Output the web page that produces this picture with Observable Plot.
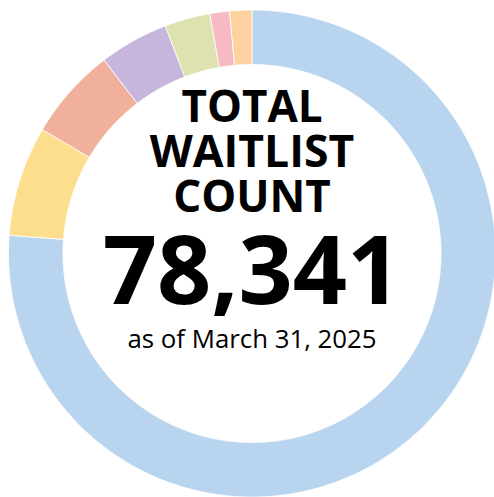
<!DOCTYPE html>
<html>
<head>
<meta charset="utf-8">
<script src="https://cdn.jsdelivr.net/npm/d3@7"></script>
<script src="https://cdn.jsdelivr.net/npm/@observablehq/plot@0.6"></script>
<style>
  html, body { margin: 0; padding: 0; background: #fff; }
  #chart { width: 494px; height: 497px; overflow: hidden; }
  svg { font-family: "Open Sans", sans-serif; }
</style>
</head>
<body>
<div id="chart"></div>
<script>
// Data (clockwise from 12 o'clock)
const categories = ["Group A", "Group B", "Group C", "Group D", "Group E", "Group F", "Group G"];
const counts = [59691, 5720, 4790, 3600, 2370, 1020, 1150];
const colors = ["#b8d4ef", "#fdde8c", "#f1b09b", "#c6b6dc", "#dee1b0", "#f7bac3", "#fdd29e"];
const titleLines = ["TOTAL", "WAITLIST", "COUNT"];
const totalLabel = "78,341";
const dateLabel = "as of March 31, 2025";

const W = 494, H = 497;
const cx = 251.5, cy = 253, R = 243.5, r0 = 189;
const inner = r0 / R;

const total = d3.sum(counts);
const pts = [];
let acc = 0;
categories.forEach((c, i) => {
  const a0 = acc / total * 2 * Math.PI;
  acc += counts[i];
  const a1 = acc / total * 2 * Math.PI;
  const n = Math.max(2, Math.ceil((a1 - a0) / (Math.PI / 360)));
  const ring = [];
  for (let k = 0; k <= n; k++) {
    const a = a0 + (a1 - a0) * k / n;
    ring.push({cat: c, x: Math.sin(a), y: Math.cos(a)});
  }
  for (let k = n; k >= 0; k--) {
    const a = a0 + (a1 - a0) * k / n;
    ring.push({cat: c, x: inner * Math.sin(a), y: inner * Math.cos(a)});
  }
  ring.push({...ring[0]});
  pts.push(...ring);
});

const center = [{x: 0, y: 0}];
const txt = (t, dy, size, weight) => Plot.text(center, {
  x: "x", y: "y", text: () => t, dy, fontSize: size, fontWeight: weight,
  lineAnchor: "bottom", textAnchor: "middle", fill: "#000"
});

const plot = Plot.plot({
  width: W, height: H,
  margin: 0,
  x: {domain: [-cx / R, (W - cx) / R], axis: null},
  y: {domain: [-(H - cy) / R, cy / R], axis: null},
  color: {domain: categories, range: colors},
  marks: [
    Plot.line(pts, {x: "x", y: "y", z: "cat", fill: "cat", stroke: "#fff", strokeWidth: 0.8, curve: "linear"}),
    txt(titleLines[0], -131.5, 44, 700),
    txt(titleLines[1], -87, 44.5, 700),
    txt(titleLines[2], -42, 44, 700),
    txt(totalLabel, 50, 95, 700),
    txt(dateLabel, 94, 25.8, 400)
  ]
});
document.getElementById("chart").appendChild(plot);
</script>
</body>
</html>
